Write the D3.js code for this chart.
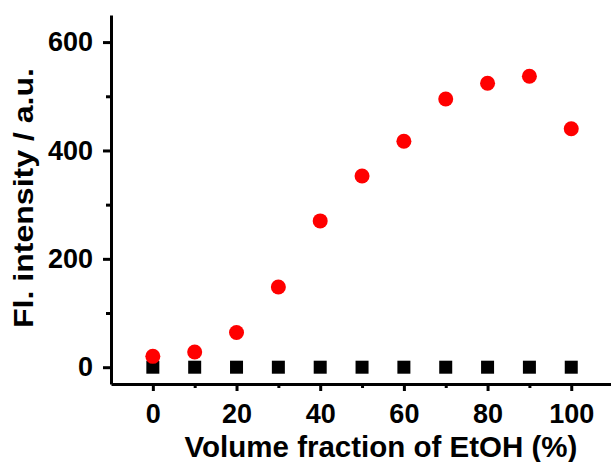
<!DOCTYPE html>
<html>
<head>
<meta charset="utf-8">
<script src="https://cdn.jsdelivr.net/npm/d3@7"></script>
<style>
  body { margin: 0; background: #fff; }
  text { font-family: "Liberation Sans", Arial, sans-serif; font-weight: bold; }
</style>
</head>
<body>
<svg id="chart"></svg>
<script>
const fractions = [0, 10, 20, 30, 40, 50, 60, 70, 80, 90, 100];
const redValues = [20, 28, 64, 148, 270, 353, 417, 495, 524, 537, 440];
const blackValues = [0, 0, 0, 0, 0, 0, 0, 0, 0, 0, 0];
const xTicks = [0, 20, 40, 60, 80, 100];
const xMinor = [10, 30, 50, 70, 90];
const yTicks = [0, 200, 400, 600];
const yMinor = [100, 300, 500];

const width = 611, height = 462;
const margin = { top: 15, right: 0, bottom: 78, left: 111 };

const svg = d3.select("#chart")
    .attr("width", width)
    .attr("height", height);

const x = d3.scaleLinear()
    .domain([-10, 109.5])
    .range([margin.left, width - margin.right]);

const y = d3.scaleLinear()
    .domain([-31, 650])
    .range([height - margin.bottom, margin.top]);

const axisY0 = height - margin.bottom;

// minor ticks first so the major axis draws over them
svg.append("g")
    .attr("transform", `translate(0,${axisY0})`)
    .call(d3.axisBottom(x).tickValues(xMinor).tickSize(4).tickFormat(""))
    .call(g => g.select(".domain").remove())
    .selectAll("line").attr("stroke-width", 3);

svg.append("g")
    .attr("transform", `translate(${margin.left},0)`)
    .call(d3.axisLeft(y).tickValues(yMinor).tickSize(5).tickFormat(""))
    .call(g => g.select(".domain").remove())
    .selectAll("line").attr("stroke-width", 3);

const xAxis = svg.append("g")
    .attr("transform", `translate(0,${axisY0})`)
    .call(d3.axisBottom(x).tickValues(xTicks).tickSize(7).tickSizeOuter(0).tickPadding(13));
xAxis.select(".domain").attr("stroke-width", 3);
xAxis.selectAll("line").attr("stroke-width", 3);
xAxis.selectAll("text").attr("font-size", 27).attr("fill", "#000")
    .style("font-family", "'Liberation Sans', Arial, sans-serif");

const yAxis = svg.append("g")
    .attr("transform", `translate(${margin.left},0)`)
    .call(d3.axisLeft(y).tickValues(yTicks).tickSize(8).tickSizeOuter(0).tickPadding(10));
yAxis.select(".domain").attr("stroke-width", 3);
yAxis.selectAll("line").attr("stroke-width", 3);
yAxis.selectAll("text").attr("font-size", 27).attr("fill", "#000")
    .style("font-family", "'Liberation Sans', Arial, sans-serif");

// black squares
const sq = 13;
svg.append("g").selectAll("rect")
    .data(fractions)
    .enter().append("rect")
    .attr("x", (d) => x(d) - sq / 2)
    .attr("y", (d, i) => y(blackValues[i]) - sq / 2)
    .attr("width", sq)
    .attr("height", sq)
    .attr("fill", "#000");

// red circles
svg.append("g").selectAll("circle")
    .data(fractions)
    .enter().append("circle")
    .attr("cx", d => x(d))
    .attr("cy", (d, i) => y(redValues[i]))
    .attr("r", 7.5)
    .attr("fill", "#ff0000");

// axis titles
svg.append("text")
    .attr("x", 381)
    .attr("y", 457)
    .attr("text-anchor", "middle")
    .attr("font-size", 29.5)
    .text("Volume fraction of EtOH (%)");

svg.append("text")
    .attr("transform", "translate(33,198) rotate(-90)")
    .attr("text-anchor", "middle")
    .attr("font-size", 28)
    .attr("textLength", 260)
    .attr("lengthAdjust", "spacingAndGlyphs")
    .text("Fl. intensity / a.u.");
</script>
</body>
</html>
